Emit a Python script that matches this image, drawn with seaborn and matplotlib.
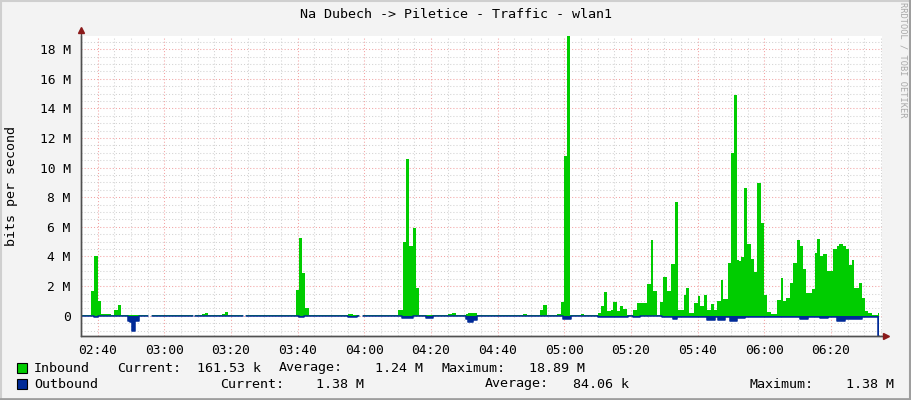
import numpy as np
import matplotlib
matplotlib.use("Agg")
import matplotlib.pyplot as plt
import seaborn as sns
from matplotlib.patches import Rectangle
from matplotlib.lines import Line2D

sns.set_theme(style="white")
plt.rcParams['font.family'] = ['DejaVu Sans Mono']

# minutes after 02:35, value in Mbit/s (steps hold until the next time)
start_time = "02:35"
end_minute = 239.5
in_t = [0.0, 0.3, 3.0, 4.0, 5.0, 6.0, 7.0, 9.0, 10.0, 11.0, 12.0, 20.2, 21.2, 33.7, 34.2,
        36.2, 37.2, 38.2, 42.2, 43.2, 44.2, 48.7, 49.4, 64.4, 65.4, 66.2, 67.2, 68.5,
        80.2, 81.5, 83.5, 84.5, 95.2, 96.5, 97.5, 98.5, 99.5, 100.5, 101.5, 110.2, 111.2,
        112.5, 115.5, 116.2, 118.7, 132.7, 133.7, 137.7, 138.7, 139.7, 142.7, 143.9, 144.9,
        145.8, 146.7, 150.0, 151.0, 155.2, 155.9, 156.9, 157.9, 158.9, 159.7, 160.7, 161.7,
        162.7, 163.7, 165.7, 166.9, 169.9, 170.9, 171.7, 172.7, 173.7, 174.7, 175.9, 176.9,
        178.2, 179.2, 180.9, 181.5, 182.5, 184.0, 185.2, 185.7, 186.9, 187.7, 189.0, 190.0,
        190.9, 191.9, 192.7, 194.2, 195.0, 196.0, 196.7, 197.4, 198.0, 199.0, 199.7, 200.9,
        201.9, 202.9, 203.9, 204.9, 205.9, 206.9, 208.9, 210.0, 210.7, 211.5, 212.7, 213.7,
        214.7, 215.7, 216.5, 217.5, 219.2, 220.2, 220.9, 221.7, 222.7, 223.7, 225.7, 226.7,
        227.5, 228.5, 229.5, 230.5, 231.2, 231.9, 233.5, 234.2, 235.2, 236.2, 237.2, 239.0]
in_v = [3.6, 0.02, 1.68, 4.04, 0.97, 0.1, 0.13, 0.07, 0.36, 0.74, 0.02, np.nan, 0.02, np.nan, 0.02,
        0.1, 0.2, 0.03, 0.13, 0.27, 0.03, np.nan, 0.02, 1.75, 5.23, 2.87, 0.52, 0.02,
        0.13, 0.02, np.nan, 0.02, 0.4, 5.0, 10.57, 4.7, 5.95, 1.9, 0.02, 0.12, 0.18,
        0.02, 0.12, 0.15, 0.02, 0.1, 0.02, 0.4, 0.74, 0.02, 0.13, 0.94, 10.77,
        18.89, 0.02, 0.13, 0.02, 0.18, 0.67, 1.6, 0.34, 0.4, 0.94, 0.34, 0.67,
        0.47, 0.07, 0.4, 0.85, 2.15, 5.12, 1.68, 0.07, 0.9, 2.63, 1.68, 3.5,
        7.68, 0.37, 1.41, 1.86, 0.18, 0.88, 1.35, 0.63, 1.41, 0.4, 0.81, 0.4,
        1.0, 2.42, 1.14, 3.55, 11.0, 14.88, 3.77, 3.7, 3.95, 8.64, 4.85, 3.8,
        2.96, 8.95, 6.28, 1.41, 0.22, 0.11, 1.03, 2.54, 1.0, 1.23, 2.24, 3.55,
        5.1, 4.74, 3.14, 1.53, 1.82, 4.26, 5.16, 4.0, 4.17, 3.0, 4.49, 4.74,
        4.85, 4.74, 4.51, 3.43, 3.77, 1.88, 2.2, 1.23, 0.29, 0.18, 0.07, 0.16]

out_t = [0.0, 4.0, 5.0, 14.0, 14.7, 15.2, 16.2, 17.4, 20.2, 21.2, 33.7, 34.2, 48.7, 49.4,
         65.4, 67.0, 80.2, 82.7, 83.5, 84.5, 96.2, 99.5, 103.5, 105.7, 115.5, 116.2, 117.5,
         118.7, 144.7, 146.9, 155.2, 164.0, 165.7, 167.7, 174.2, 177.7, 178.7, 187.7, 190.2,
         191.2, 193.2, 194.7, 196.7, 199.2, 215.7, 218.2, 221.7, 224.2, 226.7, 229.2, 234.2,
         239.2]
out_v = [0.03, 0.11, 0.03, 0.38, 0.45, 1.05, 0.34, 0.03, np.nan, 0.03, np.nan, 0.03, np.nan, 0.03,
         0.11, 0.03, 0.11, 0.03, np.nan, 0.03, 0.16, 0.03, 0.15, 0.03, 0.25, 0.45, 0.3,
         0.03, 0.22, 0.03, 0.09, 0.03, 0.08, 0.03, 0.11, 0.22, 0.09, 0.27, 0.09,
         0.27, 0.09, 0.34, 0.16, 0.09, 0.25, 0.09, 0.18, 0.09, 0.34, 0.2, 0.07,
         1.38]

time_labels = ['02:40', '03:00', '03:20', '03:40', '04:00', '04:20', '04:40',
               '05:00', '05:20', '05:40', '06:00', '06:20']
y_ticks = [0, 2, 4, 6, 8, 10, 12, 14, 16, 18]
y_labels = ['0', '2 M', '4 M', '6 M', '8 M', '10 M', '12 M', '14 M', '16 M', '18 M']

legend_in = ['Inbound', 'Current:', '161.53 k', 'Average:', '1.24 M', 'Maximum:', '18.89 M']
legend_out = ['Outbound', 'Current:', '1.38 M', 'Average:', '84.06 k', 'Maximum:', '1.38 M']

green = '#00CC00'
blue = '#002A97'


def to_minutes(hhmm):
    h, m = hhmm.split(':')
    return int(h) * 60 + int(m)


def steps(t, v, t_end):
    edges = np.append(np.asarray(t, dtype=float), t_end)
    x = np.repeat(edges, 2)[1:-1]
    y = np.repeat(np.asarray(v, dtype=float), 2)
    return x, y


W, H = 911, 400
fig = plt.figure(figsize=(W / 100, H / 100), dpi=100, facecolor='#F3F3F3')
ax = fig.add_axes([81 / W, 64 / H, 801 / W, 300 / H])
ax.set_facecolor('white')

xi, yi = steps(in_t, in_v, end_minute)
xo, yo = steps(out_t, out_v, end_minute)
ax.fill_between(xi, 0, np.nan_to_num(yi), where=~np.isnan(yi), color=green, lw=0, zorder=3)
ax.fill_between(xo, 0, -np.nan_to_num(yo), where=~np.isnan(yo), color=blue, lw=0, zorder=4)
ax.plot(xo, -yo, color=blue, lw=1.1, zorder=5)

t0 = to_minutes(start_time)
ax.set_xlim(0, 240.3)
ax.set_ylim(-1.37, 18.89)
ax.set_xticks([to_minutes(s) - t0 for s in time_labels])
ax.set_xticklabels(time_labels)
ax.set_xticks(np.arange(0, 241, 5), minor=True)
ax.set_yticks(y_ticks)
ax.set_yticklabels(y_labels)
ax.set_yticks(np.arange(-1.0, 18.9, 0.5), minor=True)

ax.grid(which='minor', color='#D2D2D2', linestyle=(0, (1, 2)), lw=0.75, zorder=1)
ax.grid(which='major', color='#F3A3A3', linestyle=(0, (1, 2)), lw=0.75, zorder=2)
ax.set_axisbelow(True)

for s in ['top', 'right']:
    ax.spines[s].set_visible(False)
for s in ['left', 'bottom']:
    ax.spines[s].set_color('#505050')
    ax.spines[s].set_linewidth(1.0)
    ax.spines[s].set_zorder(6)
ax.tick_params(axis='both', which='both', direction='inout', color='#707070', width=0.7,
               labelsize=9.3, labelcolor='black')
ax.tick_params(axis='x', which='major', length=4, pad=4)
ax.tick_params(axis='x', which='minor', length=3)
ax.tick_params(axis='y', which='major', length=3, pad=6)
ax.tick_params(axis='y', which='minor', length=0)

# axis arrows
fig.add_artist(Line2D([81 / W, 81 / W], [1 - 336 / H, 1 - 31 / H], color='#505050', lw=1.0))
fig.add_artist(Line2D([81 / W, 885 / W], [1 - 336 / H, 1 - 336 / H], color='#505050', lw=1.0))
fig.add_artist(Line2D([81 / W], [1 - 30 / H], marker='^', ms=5, color='#8B1A1A', lw=0))
fig.add_artist(Line2D([886 / W], [1 - 336 / H], marker='>', ms=5, color='#8B1A1A', lw=0))

fig.text(0.5, 1 - 14 / H, 'Na Dubech -> Piletice - Traffic - wlan1', ha='center', va='center',
         fontsize=9.6, color='black')
fig.text(12 / W, 1 - 186 / H, 'bits per second', rotation=90, ha='center', va='center',
         fontsize=9.6, color='black')
fig.text(903 / W, 1 - 60 / H, 'RRDTOOL / TOBI OETIKER', rotation=270, ha='center', va='center',
         fontsize=6.2, color='#A8A8A8')

in_x = [34, 116.7, 196.7, 279, 375, 442, 529]
out_x = [34, 220, 316, 485, 573, 750, 846]
for label, x in zip(legend_in, in_x):
    fig.text(x / W, 1 - 368 / H, label, ha='left', va='center', fontsize=9.6, color='black')
for label, x in zip(legend_out, out_x):
    fig.text(x / W, 1 - 384 / H, label, ha='left', va='center', fontsize=9.6, color='black')
fig.add_artist(Rectangle((17 / W, 1 - 373 / H), 10 / W, 10 / H, transform=fig.transFigure,
                         fc=green, ec='black', lw=0.8))
fig.add_artist(Rectangle((17 / W, 1 - 389 / H), 10 / W, 10 / H, transform=fig.transFigure,
                         fc=blue, ec='black', lw=0.8))

# 3D-ish frame around the image
fig.add_artist(Line2D([0, 1], [1 - 1 / H, 1 - 1 / H], color='#CFCFCF', lw=1.5))
fig.add_artist(Line2D([1 / W, 1 / W], [0, 1], color='#CFCFCF', lw=1.5))
fig.add_artist(Line2D([0, 1], [1.5 / H, 1.5 / H], color='#9E9E9E', lw=2))
fig.add_artist(Line2D([1 - 1 / W, 1 - 1 / W], [0, 1], color='#9E9E9E', lw=1.5))

fig.savefig('out.png', dpi=100, facecolor=fig.get_facecolor())
